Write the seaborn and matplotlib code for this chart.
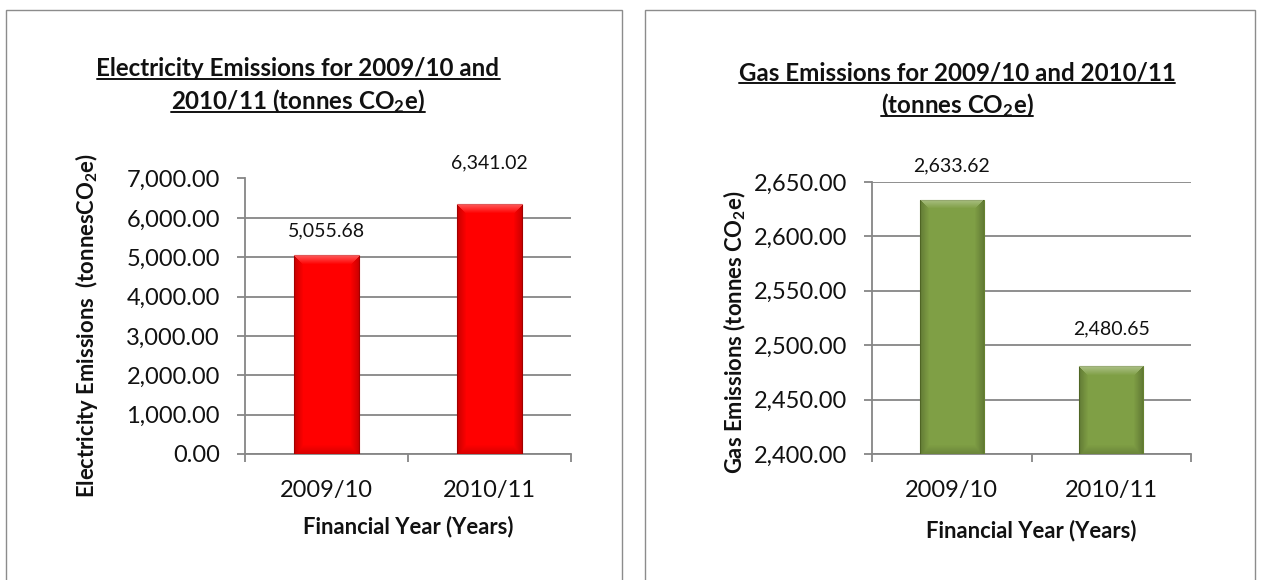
import matplotlib
matplotlib.use("Agg")
import matplotlib.pyplot as plt
import matplotlib.ticker as mticker
from matplotlib.lines import Line2D
from matplotlib.patches import Rectangle
import numpy as np
import seaborn as sns
import pandas as pd

# ---- data -------------------------------------------------------------
years = ["2009/10", "2010/11"]
electricity = [5055.68, 6341.02]
gas = [2633.62, 2480.65]

elec_ticks = [0, 1000, 2000, 3000, 4000, 5000, 6000, 7000]
gas_ticks = [2400, 2450, 2500, 2550, 2600, 2650]

# ---- style ------------------------------------------------------------
sns.set_theme(style="white")
FONT = "Lato"
plt.rcParams["font.family"] = [FONT, "DejaVu Sans"]
plt.rcParams["mathtext.fontset"] = "custom"
plt.rcParams["mathtext.rm"] = FONT
plt.rcParams["mathtext.bf"] = FONT + ":bold"
plt.rcParams["mathtext.default"] = "regular"

W, H = 1262, 580
DPI = 100
fig = plt.figure(figsize=(W / DPI, H / DPI), dpi=DPI)
fig.patch.set_facecolor("white")

GRID = "#868686"
TXT = "#111111"
LABEL_SIZE = 15.8
TITLE_SIZE = 17.4


def px_axes(x0, y0, x1, y1):
    """Axes from pixel box (top-left origin)."""
    return fig.add_axes([x0 / W, 1 - y1 / H, (x1 - x0) / W, (y1 - y0) / H])


def fx(x):
    return x / W


def fy(y):
    return 1 - y / H


# panel frames
for (x0, x1) in [(6, 622), (645, 1255)]:
    fig.add_artist(Rectangle((fx(x0), fy(592)), fx(x1 - x0), (592 - 10) / H,
                             transform=fig.transFigure, fill=False,
                             edgecolor="#8c8c8c", lw=1.0))


def bevel(ax, patch):
    """Soft bevel shading clipped to a bar."""
    x0, y0 = patch.get_x(), max(patch.get_y(), ax.get_ylim()[0])
    x1, y1 = x0 + patch.get_width(), patch.get_y() + patch.get_height()
    p0 = ax.transData.transform((x0, y0))
    p1 = ax.transData.transform((x1, y1))
    wpx = max(int(round(p1[0] - p0[0])), 2)
    hpx = max(int(round(p1[1] - p0[1])), 2)
    img = np.zeros((hpx, wpx, 4))
    xs = np.arange(wpx)
    ys = np.arange(hpx)
    edge = 9.0
    dx = np.minimum(xs, wpx - 1 - xs)[None, :] * np.ones((hpx, 1))
    dtop = ys[:, None] * np.ones((1, wpx))
    dbot = (hpx - 1 - ys)[:, None] * np.ones((1, wpx))
    # darker sides and foot
    side = np.clip(1 - dx / edge, 0, 1) * 0.22
    bottom = np.clip(1 - dbot / edge, 0, 1) * 0.15
    dark = np.maximum(side, bottom)
    # light top bevel
    top = np.where((dtop < edge) & (dtop <= dx), 0.35 * (1 - dtop / edge), 0)
    img[..., :3] = np.where(top[..., None] > 0, 1.0, 0.0)
    img[..., 3] = np.where(top > 0, top, dark)
    im = ax.imshow(img, extent=(x0, x1, y0, y1), origin="upper",
                   aspect="auto", zorder=4, interpolation="bilinear")
    im.set_clip_path(patch)


def style_axes(ax, ticks, ylim, color, edge, label_offsets_px, values):
    df = pd.DataFrame({"year": years, "value": values})
    sns.barplot(data=df, x="year", y="value", ax=ax, color=color,
                width=0.4, saturation=1, edgecolor=edge, linewidth=0.8,
                zorder=3)
    ax.set_xlim(-0.5, 1.5)
    ax.set_ylim(*ylim)
    for patch in list(ax.patches):
        bevel(ax, patch)
    ax.set_xlim(-0.5, 1.5)
    ax.set_ylim(*ylim)
    ax.yaxis.set_major_locator(mticker.FixedLocator(ticks))
    ax.yaxis.set_major_formatter(mticker.FuncFormatter(lambda v, p: f"{v:,.2f}"))
    ax.grid(axis="y", color=GRID, lw=1.3, zorder=0)
    ax.set_axisbelow(True)
    for s in ["top", "right"]:
        ax.spines[s].set_visible(False)
    for s in ["left", "bottom"]:
        ax.spines[s].set_color(GRID)
        ax.spines[s].set_linewidth(1.3)
    ax.tick_params(axis="y", which="major", left=True, length=6, width=1.3,
                   color=GRID, labelsize=17, labelcolor=TXT, pad=12)
    ax.tick_params(axis="x", which="major", bottom=False, labelsize=17,
                   labelcolor=TXT, pad=13)
    ax.xaxis.set_minor_locator(mticker.FixedLocator([-0.5, 0.5, 1.5]))
    ax.tick_params(axis="x", which="minor", bottom=True, length=6, width=1.3,
                   color=GRID)
    for i, (v, off) in enumerate(zip(values, label_offsets_px)):
        ax.annotate(f"{v:,.2f}", xy=(i, v), xytext=(0, off * 72 / DPI),
                    textcoords="offset points", ha="center", va="center",
                    fontsize=14, color=TXT, annotation_clip=False)


# ---- electricity ------------------------------------------------------
ax1 = px_axes(245, 178.5, 571, 454)
style_axes(ax1, elec_ticks, (0, 7000), "#ff0000", "#d00000",
           [24, 42], electricity)
ax1.set_xlabel("Financial Year (Years)", fontsize=LABEL_SIZE,
               fontweight="bold", color=TXT)
ax1.xaxis.set_label_coords(0.5, -0.224)
ax1.set_ylabel("Electricity Emissions  (tonnesCO$_2$e)", fontsize=LABEL_SIZE,
               fontweight="bold", color=TXT)
ax1.yaxis.set_label_coords(-0.445, 0.465)

# ---- gas --------------------------------------------------------------
ax2 = px_axes(872, 182, 1191, 454)
style_axes(ax2, gas_ticks, (2400, 2650), "#7f9f45", "#66822f",
           [34, 37], gas)
ax2.set_xlabel("Financial Year (Years)", fontsize=LABEL_SIZE,
               fontweight="bold", color=TXT)
ax2.xaxis.set_label_coords(0.5, -0.24)
ax2.set_ylabel("Gas Emissions (tonnes CO$_2$e)", fontsize=LABEL_SIZE,
               fontweight="bold", color=TXT)
ax2.yaxis.set_label_coords(-0.39, 0.449)

# ---- titles (underlined) ----------------------------------------------
titles = [
    (298, 76, "Electricity Emissions for 2009/10 and"),
    (298, 109, "2010/11 (tonnes CO$_2$e)"),
    (957, 80, "Gas Emissions for 2009/10 and 2010/11"),
    (957, 113, "(tonnes CO$_2$e)"),
]
title_texts = []
for x, y, s in titles:
    t = fig.text(fx(x), fy(y), s, ha="center", va="baseline",
                 fontsize=TITLE_SIZE, fontweight="bold", color=TXT)
    title_texts.append((t, y))

renderer = fig.canvas.get_renderer()
for t, y in title_texts:
    bb = t.get_window_extent(renderer)
    fig.add_artist(Line2D([bb.x0 / W, bb.x1 / W], [fy(y + 3), fy(y + 3)],
                          transform=fig.transFigure, color=TXT, lw=1.4))

fig.savefig("out.png", dpi=DPI, facecolor="white")
